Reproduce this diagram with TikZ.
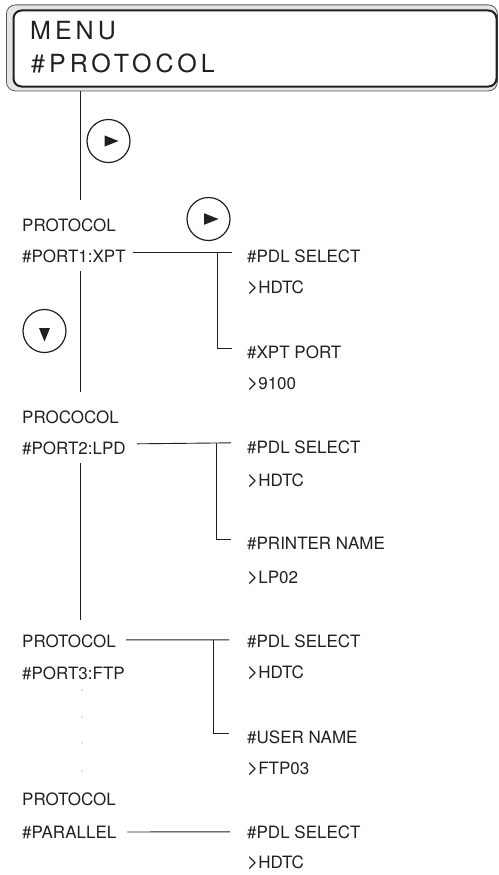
\documentclass[tikz,border=0pt]{standalone}
\usepackage{fontspec}
\usepackage{graphicx}
\setmainfont{TeX Gyre Heros}
\newfontfamily\hdrfont[LetterSpace=16]{TeX Gyre Heros}
\usetikzlibrary{calc}
\definecolor{ink}{HTML}{231F20}
\newcommand{\bigGt}{\scalebox{1.12}[1.25]{>}}
\begin{document}
\begin{tikzpicture}[x=1pt,y=-1pt,
  lbl/.style={anchor=base west,inner sep=0pt,font=\fontsize{17}{20}\selectfont,text=ink},
  hdr/.style={anchor=base west,inner sep=0pt,font=\hdrfont\fontsize{25}{30}\selectfont,text=ink},
  conn/.style={draw=ink,line width=0.9pt},
  key/.style={circle,draw=ink,line width=1.2pt,minimum size=43pt,inner sep=0pt},
  tri/.style={fill=ink}
 ]
\useasboundingbox (0,0) rectangle (498,875);
% display frame
\node[draw=black!65, fill=black!10, rounded corners=9pt, line width=0.8pt,
      minimum width=491pt, minimum height=86pt, inner sep=0pt, anchor=north west] (frame) at (6,4.5) {};
\node[draw=ink, fill=white, rounded corners=8pt, line width=2pt,
      minimum width=483pt, minimum height=76pt, inner sep=0pt, anchor=north west] (screen) at (12.5,9.5) {};
\node[hdr] (m1) at (30,40) {MENU};
\node[hdr] (m2) at (31,72.5) {\#PROTOCOL};

% labels, left column
\node[lbl] (p1)  at (22,231) {PROTOCOL};
\node[lbl] (p1b) at (22,262) {\#PORT1:XPT};
\node[lbl] (p2)  at (22,423) {PROCOCOL};
\node[lbl] (p2b) at (22,454) {\#PORT2:LPD};
\node[lbl] (p3)  at (22,647) {PROTOCOL};
\node[lbl] (p3b) at (22,679) {\#PORT3:FTP};
\node[lbl] (p4)  at (22,805) {PROTOCOL};
\node[lbl] (p4b) at (22,838) {\#PARALLEL};

% labels, right column
\node[lbl] (r1a) at (247,262) {\#PDL SELECT};
\node[lbl] (r1b) at (247,293) {\bigGt HDTC};
\node[lbl] (r1c) at (247,358) {\#XPT PORT};
\node[lbl] (r1d) at (247,389) {\bigGt 9100};
\node[lbl] (r2a) at (247,453) {\#PDL SELECT};
\node[lbl] (r2b) at (247,486) {\bigGt HDTC};
\node[lbl] (r2c) at (247,549) {\#PRINTER NAME};
\node[lbl] (r2d) at (247,583) {\bigGt LP02};
\node[lbl] (r3a) at (247,647) {\#PDL SELECT};
\node[lbl] (r3b) at (247,678) {\bigGt HDTC};
\node[lbl] (r3c) at (247,743) {\#USER NAME};
\node[lbl] (r3d) at (247,774) {\bigGt FTP03};
\node[lbl] (r4a) at (247,838) {\#PDL SELECT};
\node[lbl] (r4b) at (247,868) {\bigGt HDTC};

% key circles
\node[key] (k1) at (108.5,141) {};
\fill[tri] ($(k1)+(-4,-5.6)$) -- ($(k1)+(10,0)$) -- ($(k1)+(-4,5.6)$) -- cycle;
\node[key] (k2) at (208.5,219) {};
\fill[tri] ($(k2)+(-4.5,-5.8)$) -- ($(k2)+(10,0)$) -- ($(k2)+(-4.5,5.8)$) -- cycle;
\node[key] (k3) at (44.5,331) {};
\fill[tri] ($(k3)+(-5.5,-3)$) -- ($(k3)+(5.5,-3)$) -- ($(k3)+(0,10.5)$) -- cycle;

% trunk
\coordinate (tk) at (80,0);
\coordinate (t1) at (80,200);
\coordinate (t2) at (80,271);
\coordinate (t3) at (80,392);
\coordinate (t4) at (80,463);
\coordinate (t5) at (80,620);
\draw[conn] (frame.south -| tk) -- (t1);
\draw[conn] (t2) -- (t3);
\draw[conn] (t4) -- (t5);
\foreach \yy in {690,717,743,771} \fill[ink!55] (82,\yy) circle (0.7pt);

% branches
\draw[conn] ([xshift=7pt,yshift=3pt]p1b.east) -- ([xshift=-15pt,yshift=3pt]r1a.west);
\draw[conn] ([xshift=-30pt,yshift=3pt]r1a.west) |- ([xshift=-15pt,yshift=3pt]r1c.west);

\draw[conn] ([xshift=11pt,yshift=4pt]p2b.east) -- ([xshift=-16pt,yshift=4pt]r2a.west);
\draw[conn] ([xshift=-31pt,yshift=4pt]r2a.west) |- ([xshift=-16pt,yshift=4pt]r2c.west);

\draw[conn] ([xshift=10pt,yshift=1pt]p3.east) -- ([xshift=-18pt,yshift=1pt]r3a.west);
\draw[conn] ([xshift=-34pt,yshift=1pt]r3a.west) |- ([xshift=-18pt,yshift=3pt]r3c.west);

\draw[conn] ([xshift=11pt]p4b.east) -- ([xshift=-17pt]r4a.west);
\end{tikzpicture}
\end{document}
